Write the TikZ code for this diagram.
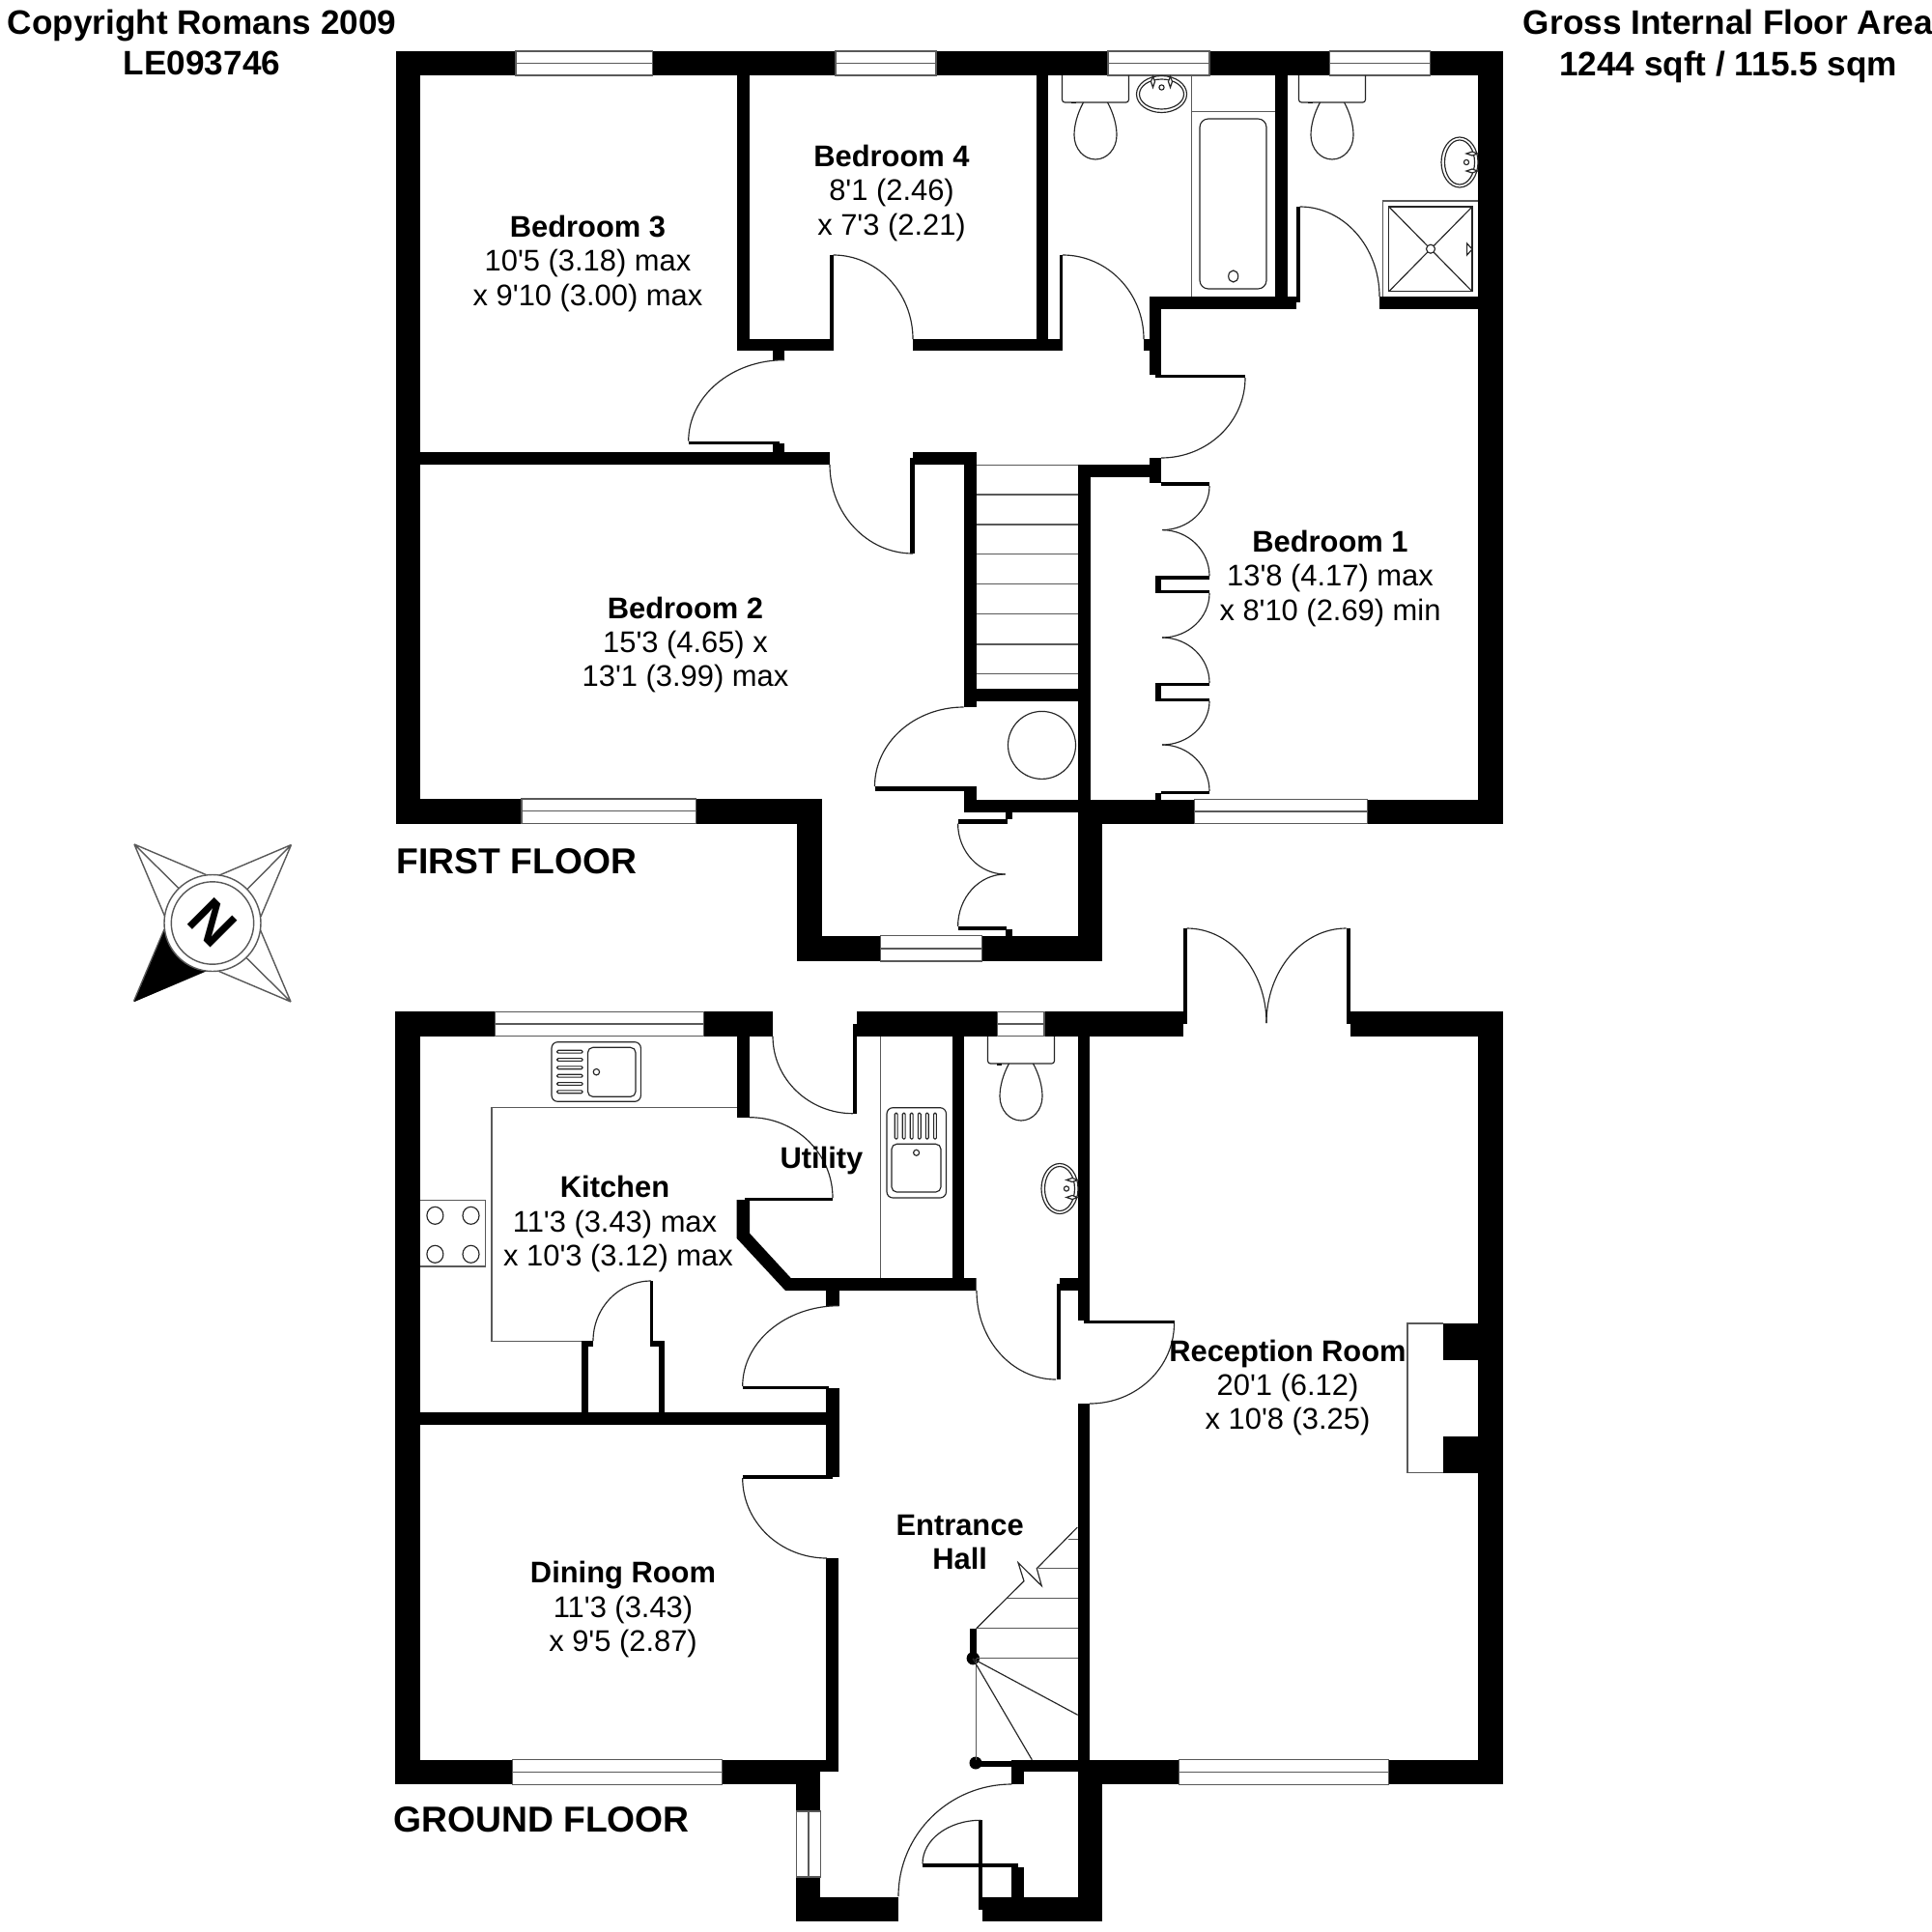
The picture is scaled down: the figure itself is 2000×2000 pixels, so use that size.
\documentclass[tikz,border=0pt]{standalone}
\usepackage{fontspec}
\setmainfont[Ligatures=TeXOff]{Liberation Sans}
\tikzset{
  wall/.style={fill=black,draw=none},
  fine/.style={draw=black!85,line width=0.33pt,fill=none},
  win/.style={draw=black!65,line width=0.4pt},
  room/.style={align=center,inner sep=0pt,font=\fontsize{8.78}{10}\selectfont},
  head/.style={align=center,inner sep=0pt,font=\bfseries\fontsize{10}{12}\selectfont},
  floorname/.style={inner sep=0pt,font=\bfseries\fontsize{10.6}{12}\selectfont},
  x=0.01cm,y=-0.01cm
}
\newcommand{\W}[4]{\fill[wall] (#1,#2) rectangle (#3,#4);}
\newcommand{\WinH}[4]{\fill[white] (#1,#2) rectangle (#3,#4);\draw[win] (#1,#2) rectangle (#3,#4);\draw[win] (#1,{(#2+#4)/2}) -- (#3,{(#2+#4)/2});}
\newcommand{\WinV}[4]{\fill[white] (#1,#2) rectangle (#3,#4);\draw[win] (#1,#2) rectangle (#3,#4);\draw[win] ({(#1+#3)/2},#2) -- ({(#1+#3)/2},#4);}
\newcommand{\ArcHV}[4]{\draw[fine] (#1,#2) .. controls ({#1+.5523*(#3-#1)},#2) and (#3,{#4-.5523*(#4-#2)}) .. (#3,#4);}
\newcommand{\ArcVH}[4]{\draw[fine] (#1,#2) .. controls (#1,{#2+.5523*(#4-#2)}) and ({#3-.5523*(#3-#1)},#4) .. (#3,#4);}
\newcommand{\Basin}[3]{\begin{scope}[shift={(#1,#2)},rotate=#3]
  \draw[fine] (0,0) ellipse [x radius=26,y radius=19];
  \draw[fine] (0,0) ellipse [x radius=23,y radius=15.5];
  \draw[fine] (0,-7) circle [radius=2.6];
  \draw[fine,fill=white] (-9,-18.5) -- (-7,-13) -- (-9,-7) -- (-11,-13) -- cycle;
  \draw[fine,fill=white] (9,-18.5) -- (11,-13) -- (9,-7) -- (7,-13) -- cycle;
\end{scope}}
\newcommand{\WC}[2]{\begin{scope}[shift={(#1,#2)}]
  \draw[fine,rounded corners=0.8pt] (-34.5,0) -- (-34.5,28) -- (34.5,28) -- (34.5,0);
  \fill[black] (-25,28) rectangle (-20,29.5);
  \draw[fine] (-12.5,28) .. controls (-19,40) and (-22,52) .. (-22,62) .. controls (-22,76) and (-12,87) .. (0,87) .. controls (12,87) and (22,76) .. (22,62) .. controls (22,52) and (19,40) .. (12.5,28);
\end{scope}}
\begin{document}
\begin{tikzpicture}
\useasboundingbox (0,0) rectangle (2000,2000);
\fill[white] (0,0) rectangle (2000,2000);
%%%%%% FIRST FLOOR walls
\W{410}{53}{1555.7}{78}
\W{410}{53}{435}{852.5}
\W{1530}{53}{1555.7}{852.5}
\W{410}{827}{851}{852.5}
\W{825}{827}{850.5}{995}
\W{825}{968.6}{1140.8}{995}
\W{1115.6}{827.5}{1140.8}{995}
\W{1115.6}{827.5}{1555.7}{852.5}
% bedroom 3/4
\W{763}{78}{776}{363.3}
\W{763}{350.7}{859}{363.3}
\W{859}{264}{862.5}{363}
\W{945}{350.7}{1098}{363.3}
\W{1072.5}{78}{1085}{351}
\W{1097}{264}{1100}{363}
\W{1184}{351}{1190}{363.3}
\W{1190}{307}{1202}{388}
\W{1190}{307}{1342}{320}
\W{1320}{78}{1333}{307}
\W{1342}{214}{1345.6}{313}
\W{1428}{307}{1530}{320}
\W{1196}{388}{1289}{391}
\W{1190}{474}{1202}{500}
\W{1115.6}{480.7}{1190}{493.6}
\W{1115.6}{481}{1128.6}{827.5}
\W{799.5}{363}{812}{372.7}
\W{799.5}{459}{812}{468}
\W{712.7}{456.7}{806.6}{459.5}
\W{435}{468}{859}{481}
% stair walls
\W{945}{468}{1010.7}{481}
\W{942}{474}{946.5}{573}
\W{997.7}{468}{1010.7}{732}
\W{1010.7}{713}{1115.6}{725.7}
% stair treads
\foreach \yy in {481.4,511.8,542.9,573.6,604.6,635.7,666.8,697.5} {\draw[win] (1010.7,\yy) -- (1115.6,\yy);}
% cupboard
\W{905.5}{814}{1003.8}{818.6}
\W{1003.8}{814}{1010.7}{827.5}
\W{997.7}{818.6}{1010.7}{841}
\W{997.7}{827.5}{1115.6}{841}
\draw[fine] (1078.5,771.4) circle [radius=35];
\W{991.6}{848}{1042.5}{852.5}
\W{1041}{841}{1048}{848}
\W{991.6}{959}{1042}{963}
\W{1041}{962}{1048}{968.6}
% wardrobe
\W{1202}{499}{1252}{503}
\W{1202}{596.4}{1252}{600}
\W{1196}{596.4}{1202}{614}
\W{1202}{611}{1252}{614}
\W{1202}{707}{1252}{710}
\W{1196}{707}{1202}{725.7}
\W{1202}{722.5}{1252}{725.7}
\W{1202}{819}{1252}{822}
\W{1196}{821}{1202}{827.5}
\ArcVH{1252}{503}{1203}{548.6}
\ArcHV{1203}{548.6}{1252}{596.4}
\ArcVH{1252}{614}{1203}{660}
\ArcHV{1203}{660}{1252}{707}
\ArcVH{1252}{725.7}{1203}{771}
\ArcHV{1203}{771}{1252}{819}
\ArcVH{991.6}{852.5}{1040.6}{905}
\ArcHV{1040.6}{905}{991.6}{959}
% door arcs first floor
\ArcHV{862.5}{264}{945}{351}
\ArcHV{1100}{264}{1184}{351}
\ArcHV{1345.6}{214}{1428}{307}
\ArcHV{812}{372.7}{712.7}{456.7}
\ArcVH{1289}{391}{1202}{474}
\ArcVH{859}{481}{945}{573}
\ArcHV{997.7}{732}{905.5}{814}
% windows first floor
\WinH{534}{53}{675.5}{78}
\WinH{865}{53}{969}{78}
\WinH{1147}{53}{1252}{78}
\WinH{1376.6}{53}{1480.6}{78}
\WinH{540}{827}{720.6}{852.5}
\WinH{1236.5}{827.5}{1415.6}{852.5}
\WinH{911.6}{968.6}{1016.5}{995}
% bathroom
\draw[win] (1233.4,78) -- (1233.4,307);
\draw[win] (1233.4,115.7) -- (1320,115.7);
\draw[fine,rounded corners=2.5pt] (1242,123) rectangle (1311,299);
\draw[fine] (1276.7,286) ellipse [x radius=5,y radius=6];
\WC{1134}{78}
\WC{1379}{78}
\Basin{1202.5}{97.5}{0}
\Basin{1511}{168}{-90}
% shower
\draw[win] (1431.7,307) -- (1431.7,208) -- (1530,208);
\draw[fine] (1437.8,214) rectangle (1524,301.7);
\draw[fine] (1437.8,214) -- (1524,301.7) (1524,214) -- (1437.8,301.7);
\draw[fine,fill=white] (1481,257.7) circle [radius=4.5];
\draw[fine] (1524,258) -- (1518.6,252) -- (1518.6,264) -- cycle;
%%%%%% GROUND FLOOR walls
\W{409}{1047.3}{800}{1072.7}
\W{886.6}{1047.3}{1224.7}{1072.7}
\W{1398}{1047.3}{1556}{1072.7}
\W{883}{1060}{886.6}{1152.7}
\W{1224.7}{960.7}{1228.5}{1060}
\W{1393.5}{960.7}{1397.5}{1060}
\W{409}{1047.3}{434.8}{1847.3}
\W{1530}{1047.3}{1556}{1847.3}
\W{409}{1821.7}{849.3}{1847.3}
\W{849}{1821.7}{868.3}{1834.3}
\W{824.3}{1821.7}{849.3}{1989.3}
\W{824.3}{1964}{930}{1989.3}
\W{1016.7}{1964}{1141}{1989.3}
\W{1013.3}{1884.3}{1016.7}{1977}
\W{1115.7}{1822}{1141}{1989.3}
\W{1116}{1072}{1128.4}{1367}
\W{1122}{1366.8}{1215.5}{1370}
\W{1116}{1453}{1128.4}{1847.3}
\W{1128}{1821.7}{1556}{1847.3}
\W{1047.3}{1822}{1116}{1834.3}
\W{1047.3}{1822}{1060}{1847.3}
\W{1010}{1822.7}{1047.3}{1829.3}
\fill[black] (1010,1825) circle [radius=6.5];
\W{1004}{1685.7}{1010.7}{1716.7}
\fill[black] (1007.3,1716.7) circle [radius=6.7];
\W{955}{1929.3}{1054}{1933}
\W{1047}{1933}{1060}{1964}
% utility etc.
\W{762.5}{1072}{776}{1156.7}
\W{770.5}{1240}{862}{1242.8}
\fill[wall] (762.5,1242) -- (776,1242) -- (776,1276.7) -- (818.7,1323) -- (1010.7,1323) -- (1010.7,1336) -- (813,1336) -- (762.5,1281.7) -- cycle;
\W{985.7}{1072}{998.2}{1323}
\W{855}{1336}{868.7}{1351.7}
\W{768.7}{1435}{858}{1438}
\W{855}{1436.7}{868.7}{1529}
\W{768.7}{1527}{862}{1530.5}
\W{855}{1613}{868.3}{1834.3}
\W{434.8}{1462.3}{855}{1475}
\W{601.8}{1388.3}{609}{1462.3}
\W{601.8}{1388.3}{614}{1394.3}
\W{682}{1388.3}{688.4}{1462.3}
\W{676}{1388.3}{688.4}{1394.3}
\W{672.8}{1326}{676}{1394}
\W{1097}{1323}{1116}{1336.4}
\W{1093.5}{1329}{1097.5}{1428}
\W{1493.6}{1370}{1530}{1407.5}
\W{1493.6}{1487}{1530}{1524.6}
% door arcs ground floor
\ArcVH{800}{1072.7}{883}{1152.7}
\ArcHV{776}{1156.7}{862}{1240}
\ArcHV{674}{1326}{614}{1388}
\ArcHV{868.7}{1351.7}{768.7}{1435}
\ArcVH{768.7}{1530}{856}{1613}
\ArcVH{1011}{1336}{1093}{1428}
\ArcVH{1215.5}{1370}{1128}{1453}
\ArcHV{1047.3}{1847}{930}{1963}
\ArcHV{1015}{1884.3}{955}{1929.3}
\ArcHV{1228.5}{961}{1311}{1059}
\ArcHV{1393.5}{961}{1311}{1059}
% windows ground floor
\WinH{512.5}{1047.3}{728.6}{1072.7}
\WinH{1032.3}{1047.3}{1081}{1072.7}
\WinH{530.6}{1821.7}{747.4}{1847.3}
\WinH{1220.6}{1821.7}{1437.5}{1847.3}
\WinV{824.3}{1875}{849.3}{1943}
% fireplace
\draw[win] (1493.6,1370) -- (1457,1370) -- (1457,1524.6) -- (1493.6,1524.6);
% kitchen fittings
\draw[win] (762.5,1146.7) -- (509,1146.7) -- (509,1388.3) -- (601.8,1388.3);
\draw[win] (434.8,1242.3) -- (502.7,1242.3) -- (502.7,1311) -- (434.8,1311);
\foreach \cx in {450.4,487.5} {\foreach \cy in {1258.3,1298.3} {\draw[fine] (\cx,\cy) ellipse [x radius=8.5,y radius=9];}}
\draw[fine,rounded corners=1.8pt] (571,1078.7) rectangle (663.4,1140.3);
\draw[fine,rounded corners=1.5pt] (608.5,1084.3) rectangle (658,1135.3);
\draw[fine] (617.4,1109.7) circle [radius=3.2];
\foreach \yy in {1088.7,1097,1105.3,1113.7,1122,1130.3} {\draw[fine,rounded corners=0.3pt] (576.8,\yy-1.4) rectangle (603,\yy+1.4);}
\draw[fine,rounded corners=1.8pt] (918,1146.7) rectangle (979.5,1240);
\draw[fine,rounded corners=1.5pt] (923,1184.3) rectangle (974,1234);
\draw[fine] (948.6,1193.3) circle [radius=3];
\foreach \xx in {927.7,935.7,943.7,951.8,959.8,968} {\draw[fine,rounded corners=0.3pt] (\xx-1.4,1152.3) rectangle (\xx+1.4,1179);}
\draw[win] (911.6,1072.7) -- (911.6,1323);
\WC{1057}{1073}
\Basin{1097}{1230.5}{-90}
% stairs
\foreach \yy/\xx in {1593.3/1105.7,1623.7/1075,1654.7/1041.7,1685.7/1010.7,1716.7/1010.7} {\draw[win] (\xx,\yy) -- (1115.7,\yy);}
\draw[fine] (1115.3,1581) -- (1073.3,1623.7) -- (1078.3,1641.7) -- (1054,1617.7) -- (1060,1636.7) -- (1010.7,1685.7);
\draw[win] (1010.7,1716.7) -- (1010.7,1822);
\draw[fine] (1007,1717) -- (1115.7,1775.3);
\draw[fine] (1007,1717) -- (1068.3,1821.7);
%%%%%% compass
\foreach \ang in {0,90,180,270} {
  \begin{scope}[shift={(220,955.5)},rotate=\ang]
    \draw[win] (-81,-81.5) -- (-6.7,-50) (-81,-81.5) -- (-35,-36) (-81,-81.5) -- (-49.3,-6.7);
  \end{scope}
}
\fill[black] (139,1037) -- (170.7,962) -- (214,1005) -- cycle;
\draw[win,fill=white] (220,955.5) circle [radius=50];
\draw[win] (220,955.5) circle [radius=42.7];
\node[rotate=-45,inner sep=0pt,font=\bfseries\fontsize{16.3}{16.3}\selectfont] (north) at (220,955.5) {N};
%%%%%% texts
\node[head] (copy) at (209,44) {Copyright Romans 2009\\LE093746};
\node[head] (gross) at (1789,48) {Gross Internal Floor Area\\1244 sqft / 115.5 sqm};
\node[floorname] (first) at (535,891.6) {FIRST FLOOR};
\node[floorname] (ground) at (560.5,1884) {GROUND FLOOR};
\node[room] (bed3) at (608.5,273) {\textbf{Bedroom 3}\\10'5 (3.18) max\\x 9'10 (3.00) max};
\node[room] (bed4) at (923,200) {\textbf{Bedroom 4}\\8'1 (2.46)\\x 7'3 (2.21)};
\node[room] (bed2) at (709.5,667.5) {\textbf{Bedroom 2}\\15'3 (4.65) x\\13'1 (3.99) max};
\node[room] (bed1) at (1377,599) {\textbf{Bedroom 1}\\13'8 (4.17) max\\x 8'10 (2.69) min};
\node[room] (kit) at (636.5,1267) {\textbf{Kitchen}\\11'3 (3.43) max\\\hspace*{2pt}x 10'3 (3.12) max};
\node[room] (util) at (850.5,1202) {\textbf{Utility}};
\node[room] (rec) at (1333,1436.6) {\textbf{Reception Room}\\20'1 (6.12)\\x 10'8 (3.25)};
\node[room] (din) at (645,1666) {\textbf{Dining Room}\\11'3 (3.43)\\x 9'5 (2.87)};
\node[room] (hall) at (993.6,1596.5) {\textbf{Entrance}\\\textbf{Hall}};
\end{tikzpicture}
\end{document}
